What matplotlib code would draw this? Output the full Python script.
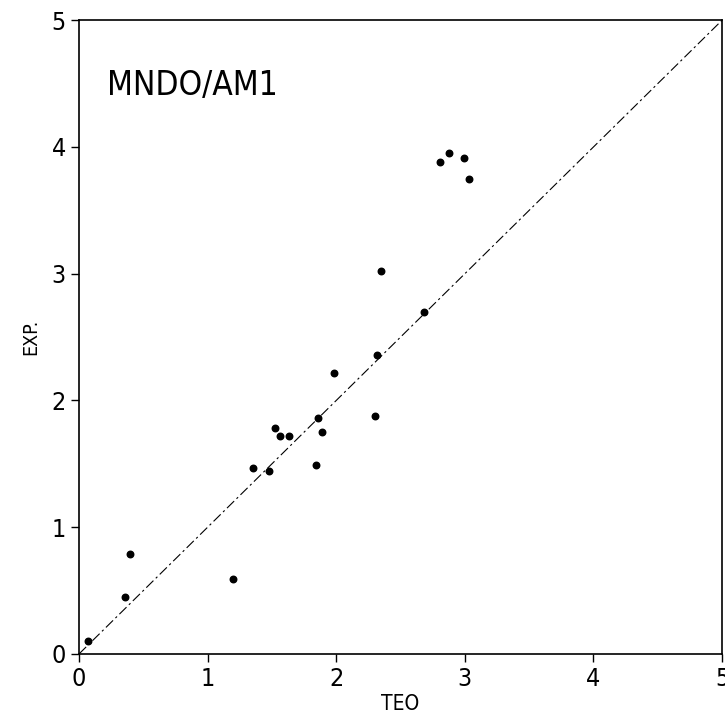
import matplotlib
matplotlib.use("Agg")
import matplotlib.pyplot as plt

teo = [0.07, 0.36, 0.40, 1.20, 1.35, 1.48, 1.52, 1.56, 1.63, 1.84, 1.86,
       1.89, 1.98, 2.30, 2.32, 2.35, 2.68, 2.81, 2.88, 2.99, 3.03]
exp = [0.10, 0.45, 0.79, 0.59, 1.47, 1.44, 1.78, 1.72, 1.72, 1.49, 1.86,
       1.75, 2.22, 1.88, 2.36, 3.02, 2.70, 3.88, 3.95, 3.91, 3.75]
ticks = [0, 1, 2, 3, 4, 5]
diag = [0, 5]

fig = plt.figure(figsize=(7.25, 7.21), dpi=100)
ax = fig.add_axes([0.109, 0.093, 0.887, 0.879])

ax.plot(diag, diag, color="black", lw=0.8, linestyle=(0, (9, 3, 2, 3)))
ax.scatter(teo, exp, s=22, color="black", zorder=3)

ax.set_xlim(0, 5)
ax.set_ylim(0, 5)
ax.set_xticks(ticks)
ax.set_yticks(ticks)
ax.tick_params(direction="out", length=6, width=1, labelsize=18)
for lab in ax.get_xticklabels() + ax.get_yticklabels():
    lab.set_fontstretch("condensed")
for s in ax.spines.values():
    s.set_linewidth(1.2)

ax.set_xlabel("TEO", fontsize=15, labelpad=2, fontstretch="condensed")
ax.set_ylabel("EXP.", fontsize=14, labelpad=8, fontstretch="condensed")
ax.text(0.044, 0.897, "MNDO/AM1", transform=ax.transAxes, fontsize=24,
        fontstretch="condensed", fontweight="light", va="center", ha="left")

fig.savefig("out.png", dpi=100)
